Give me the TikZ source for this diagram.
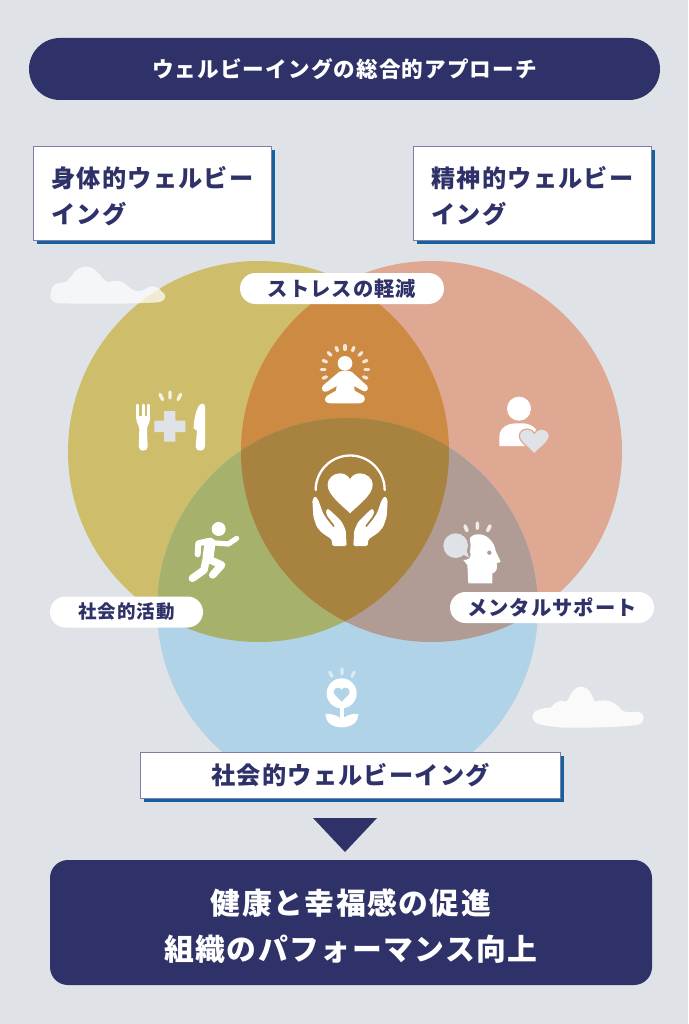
\documentclass[tikz,border=0pt]{standalone}
\usepackage{fontspec}
\usetikzlibrary{shadows}
\newfontfamily\jp[LetterSpace=5]{Noto Sans CJK JP}
\definecolor{bgc}{HTML}{DFE3E8}
\definecolor{navy}{HTML}{2F3268}
\definecolor{yel}{HTML}{CEBE6B}
\definecolor{red1}{HTML}{DFA893}
\definecolor{blu}{HTML}{B1D3E7}
\definecolor{yr}{HTML}{CC8A42}
\definecolor{yb}{HTML}{A6B16B}
\definecolor{rb}{HTML}{B09C94}
\definecolor{yrb}{HTML}{A8823F}
\definecolor{shad}{HTML}{15609E}
\definecolor{edgec}{HTML}{7C7EA8}
\newcommand{\fs}[2]{\fontsize{#1}{#2}\selectfont}
\newcommand{\circY}{(258.5,451.5) circle (190.5)}
\newcommand{\circR}{(431.5,451.5) circle (190.5)}
\newcommand{\circB}{(347.5,608.5) circle (190.5)}
\tikzset{
  boxstyle/.style={draw=edgec,line width=0.8pt,fill=white,text=navy,font=\jp\bfseries\fs{24.2}{36},
    general shadow={fill=shad,shadow xshift=3.5pt,shadow yshift=-3.5pt}},
  pillstyle/.style={fill=white,text=navy,font=\jp\bfseries\fs{20.3}{24},rounded corners=15.5pt,minimum height=31pt,inner sep=0pt},
  navystyle/.style={fill=navy,text=white,font=\jp\bfseries,inner sep=0pt},
  icon/.style={fill=white,draw=none},
  ray/.style={white,line width=3.3pt,line cap=round},
  softray/.style={ray,draw opacity=.8},
  limb/.style={white,line cap=round,line join=round}
}
\begin{document}
\begin{tikzpicture}[x=1pt,y=-1pt]
\useasboundingbox (0,0) rectangle (688,1024);
\fill[bgc] (0,0) rectangle (688,1024);
% circles
\fill[yel] \circY; \fill[red1] \circR; \fill[blu] \circB;
\begin{scope}\clip \circY; \fill[yr] \circR; \fill[yb] \circB; \end{scope}
\begin{scope}\clip \circR; \fill[rb] \circB; \end{scope}
\begin{scope}\clip \circY; \clip \circR; \fill[yrb] \circB; \end{scope}
% clouds
\begin{scope}[shift={(50,250)},scale=1/3]
\fill[white,opacity=.7] (2,130) .. controls (5,100) and (25,98) .. (45,97) .. controls (65,88) and (70,50) .. (110,50) .. controls (140,50) and (155,90) .. (175,97) .. controls (190,90) and (215,88) .. (235,110) .. controls (250,125) and (270,128) .. (285,118) .. controls (300,105) and (325,105) .. (335,125) .. controls (348,130) and (355,150) .. (325,157) .. controls (230,162) and (130,162) .. (30,160) .. controls (5,158) and (0,150) .. (2,130) -- cycle;
\end{scope}
\begin{scope}[shift={(520,675)},scale=1/3]
\fill[white,opacity=.85] (38,120) .. controls (40,105) and (70,98) .. (92,98) .. controls (105,85) and (115,72) .. (135,80) .. controls (150,80) and (150,40) .. (180,35) .. controls (215,35) and (215,70) .. (225,80) .. controls (250,72) and (280,75) .. (300,100) .. controls (310,115) and (330,112) .. (350,110) .. controls (375,110) and (380,145) .. (350,150) .. controls (280,158) and (200,158) .. (130,158) .. controls (60,150) and (35,150) .. (38,120) -- cycle;
\end{scope}
% fork, plus, knife
\begin{scope}[shift={(50,250)},scale=1/3]
\draw[limb,line width=2.6pt] (263,465)--(263,505) (280,465)--(280,505) (296,465)--(296,505);
\fill[icon] (259,498) -- (259,505) .. controls (259,522) and (268,525) .. (268,538) -- (266,590) .. controls (266,606) and (293,606) .. (293,590) -- (291,538) .. controls (291,525) and (300,522) .. (300,505) -- (300,498) -- cycle;
\fill[icon] (437,590) .. controls (437,606) and (465,606) .. (465,590) -- (465,470) .. controls (465,456) and (450,460) .. (445,470) .. controls (435,490) and (431,515) .. (431,535) -- (441,542) -- cycle;
\fill[bgc] (342,483) rectangle (376,575) (313,512) rectangle (406,546);
\draw[softray] (330,433)--(338,449) (360,426)--(360,444) (392,433)--(384,449);
\end{scope}
% meditation
\begin{scope}[shift={(290,330)},scale=1/3]
\fill[icon] (165,100) circle (22);
\fill[icon] (148,125) .. controls (165,121) and (182,121) .. (188,128) -- (232,168) .. controls (238,180) and (226,188) .. (218,182) -- (192,168) -- (194,182) -- (222,198) .. controls (230,212) and (217,221) .. (205,220) -- (125,220) .. controls (108,222) and (98,210) .. (110,198) -- (138,182) -- (140,168) -- (112,184) .. controls (98,190) and (90,175) .. (100,166) -- cycle;
\foreach \a in {-112,-90,-68,-45,-22,0,22,45,68,90,112}{
  \draw[softray,shift={(165,118)},rotate=\a] (0,-60)--(0,-71);
}
\end{scope}
% person with heart
\begin{scope}[shift={(290,330)},scale=1/3]
\fill[icon] (687,236) circle (36);
\fill[icon] (628,348) -- (628,320) .. controls (628,295) and (650,280) .. (680,280) -- (700,280) .. controls (715,280) and (730,288) .. (738,298) -- (730,348) -- cycle;
\fill[bgc,draw=red1,line width=1.2pt] (733,372) .. controls (715,352) and (688,335) .. (688,318) .. controls (688,305) and (700,297) .. (712,297) .. controls (722,297) and (730,303) .. (733,310) .. controls (736,303) and (744,297) .. (754,297) .. controls (766,297) and (778,305) .. (778,318) .. controls (778,335) and (751,352) .. (733,372) -- cycle;
\end{scope}
% centre icon
\begin{scope}[shift={(305,450)},scale=1/3]
\draw[white,line width=2.3pt,line cap=round] (32,120) arc[start angle=180,end angle=360,radius=103.5];
\fill[icon] (135,190) .. controls (110,165) and (68,135) .. (68,105) .. controls (68,82) and (88,70) .. (105,70) .. controls (120,70) and (130,78) .. (135,88) .. controls (140,78) and (150,70) .. (165,70) .. controls (182,70) and (203,82) .. (203,105) .. controls (203,135) and (160,165) .. (135,190) -- cycle;
\foreach \s/\o in {1/0,-1/270}{
\begin{scope}[shift={(\o,0)},xscale=\s]
\fill[icon,rounded corners=1.5pt] (82,288) -- (80,268) -- (50,248) -- (35,230) -- (25,200) -- (22,150) -- (30,138) -- (40,150) -- (54,190) -- (66,208) -- (88,235) -- (90,228) -- (66,197) -- (62,183) -- (68,175) -- (85,190) -- (110,215) -- (122,240) -- (125,288) -- cycle;
\end{scope}}
\end{scope}
% runner
\begin{scope}[shift={(180,515)},scale=1/3]
\fill[icon] (116,42) circle (21);
\draw[limb,line width=6pt] (85,78) -- (55,85) -- (53,118);
\draw[limb,line width=5.2pt] (95,83) -- (145,87) -- (170,70);
\draw[limb,line width=11pt] (90,84) -- (84,128);
\draw[limb,line width=7.5pt] (78,135) -- (72,165) -- (37,190);
\draw[limb,line width=7.5pt] (84,132) -- (125,150) -- (98,180);
\end{scope}
% head with bubble
\begin{scope}[shift={(435,515)},scale=1/3]
\fill[bgc] (62,92) circle (37);
\fill[bgc] (75,115) -- (102,127) -- (92,100) -- cycle;
\fill[icon] (100,205) -- (172,205) -- (172,175) .. controls (185,172) and (188,160) .. (185,145) -- (197,140) -- (182,108) .. controls (178,80) and (155,55) .. (125,58) .. controls (110,60) and (102,68) .. (105,78) .. controls (110,100) and (102,105) .. (107,120) .. controls (107,130) and (98,135) .. (85,135) -- (97,150) -- cycle;
\fill[rb] (163,113) circle (6.5);
\draw[softray,line width=3.6pt] (90,33)--(96,47) (127,24)--(127,40) (165,33)--(158,47);
\end{scope}
% flower
\begin{scope}[shift={(130,510)},scale=1/3]
\fill[icon] (635,550) circle (45);
\fill[blu] (635,575) .. controls (625,563) and (611,555) .. (611,545) .. controls (611,537) and (618,533) .. (624,533) .. controls (629,533) and (633,536) .. (635,540) .. controls (637,536) and (641,533) .. (646,533) .. controls (652,533) and (659,537) .. (659,545) .. controls (659,555) and (645,563) .. (635,575) -- cycle;
\fill[icon] (630,590) rectangle (641,630);
\fill[icon] (587,612) .. controls (610,610) and (630,620) .. (635,630) .. controls (640,620) and (660,610) .. (685,612) .. controls (685,640) and (660,652) .. (635,652) .. controls (610,652) and (587,640) .. (587,612) -- cycle;
\draw[softray,draw opacity=.55,line width=3.2pt] (599,486)--(606,499) (636,477)--(636,492) (673,486)--(666,499);
\end{scope}
% header and labelled boxes
\node[navystyle,font=\jp\bfseries\fs{21.6}{26},rounded corners=31pt,minimum width=631pt,minimum height=62pt] (title) at (344.5,69) {ウェルビーイングの総合的アプローチ};
\node[boxstyle,anchor=north west,text width=202pt,minimum height=94pt,inner xsep=18pt,inner ysep=0pt,align=left] (body) at (33,146) {\rule{0pt}{26pt}身体的ウェルビー\\イング};
\node[boxstyle,anchor=north west,text width=202pt,minimum height=94pt,inner xsep=18pt,inner ysep=0pt,align=left] (mind) at (413,146) {\rule{0pt}{26pt}精神的ウェルビー\\イング};
\node[boxstyle,minimum width=420pt,minimum height=46pt,inner sep=0pt] (social) at (350.7,775.5) {社会的ウェルビーイング};
% pills
\node[pillstyle,minimum width=204pt] (stress) at (342,288.5) {ストレスの軽減};
\node[pillstyle,font=\jp\bfseries\fs{18.5}{24},minimum width=153pt] (act) at (126.5,612) {社会的活動};
\node[pillstyle,minimum width=204pt] (support) at (552,607.5) {メンタルサポート};
% arrow and result
\node[navystyle,font=\jp\bfseries\fs{29.8}{46},rounded corners=18pt,minimum width=602pt,minimum height=125pt,align=center] (result) at (351,922.5) {\rule{0pt}{33pt}健康と幸福感の促進\\組織のパフォーマンス向上};
\coordinate (tipL) at (313,818); \coordinate (tipR) at (377,818); \coordinate (tipB) at (345,852);
\fill[navy] (tipL) -- (tipR) -- (tipB) -- cycle;
\end{tikzpicture}
\end{document}
